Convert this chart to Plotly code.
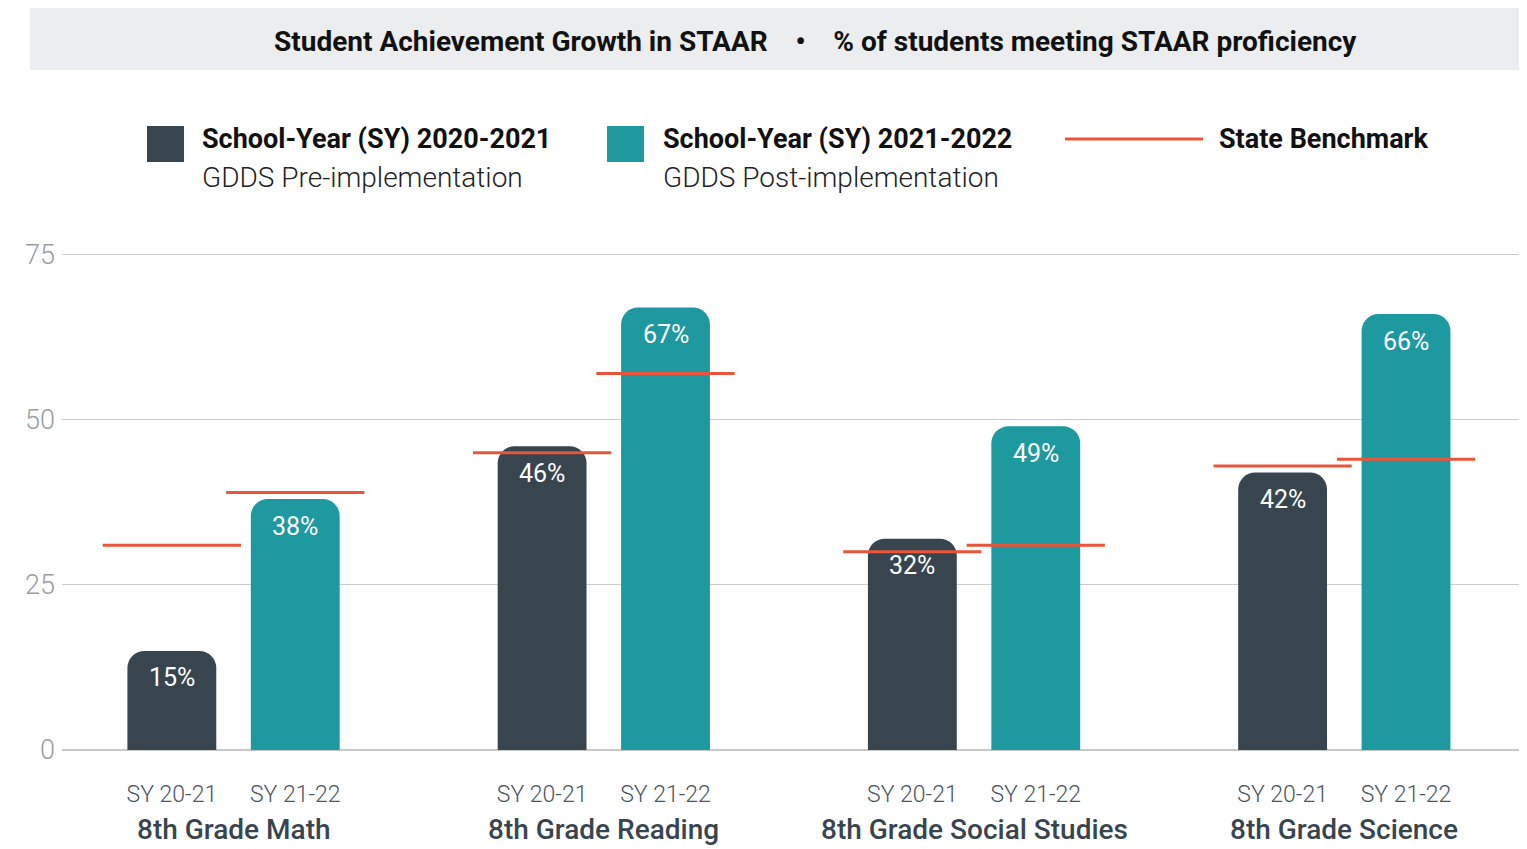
import plotly.graph_objects as go

# ---- data ----
subjects = ["8th Grade Math", "8th Grade Reading", "8th Grade Social Studies", "8th Grade Science"]
year_labels = ["SY 20-21", "SY 21-22"]
pre_values = [15, 46, 32, 42]        # SY 2020-2021 (GDDS pre-implementation)
post_values = [38, 67, 49, 66]       # SY 2021-2022 (GDDS post-implementation)
bench_pre = [31, 45, 30, 43]         # state benchmark SY 20-21
bench_post = [39, 57, 31, 44]        # state benchmark SY 21-22
y_ticks = [0, 25, 50, 75]

DARK = "#38454f"
TEAL = "#1e999f"
RED = "#e8553a"
FONT = "Roboto"

W, H = 1527, 841
L, R, T = 54, 0, 240
B = H - 742

n = len(subjects)
pre_x = [3 * i for i in range(n)]
post_x = [3 * i + 1 for i in range(n)]
grp_x = [3 * i + 0.5 for i in range(n)]
bar_w = 0.72
half = 0.56

fig = go.Figure()
fig.add_trace(go.Bar(
    x=pre_x, y=pre_values, width=bar_w, marker=dict(color=DARK, line=dict(width=0)),
    name="SY 2020-2021", showlegend=False, hovertemplate="%{y}%<extra></extra>",
))
fig.add_trace(go.Bar(
    x=post_x, y=post_values, width=bar_w, marker=dict(color=TEAL, line=dict(width=0)),
    name="SY 2021-2022", showlegend=False, hovertemplate="%{y}%<extra></extra>",
))

bx, by = [], []
for xs, bs in ((pre_x, bench_pre), (post_x, bench_post)):
    for x, b in zip(xs, bs):
        bx += [x - half, x + half, None]
        by += [b, b, None]
fig.add_trace(go.Scatter(x=bx, y=by, mode="lines", line=dict(color=RED, width=3),
                         name="State Benchmark", showlegend=False, hoverinfo="skip"))

# value labels inside bar tops
for xs, vs in ((pre_x, pre_values), (post_x, post_values)):
    for x, v in zip(xs, vs):
        fig.add_annotation(x=x, y=v, xref="x", yref="y", text=f"{v}%", showarrow=False,
                           yshift=-27, yanchor="middle", xanchor="center",
                           font=dict(size=25, color="white", family=FONT, weight=400))

tickvals = []
ticktext = []
for a, b in zip(pre_x, post_x):
    tickvals += [a, b]
    ticktext += year_labels

fig.update_layout(
    width=W, height=H,
    margin=dict(l=L, r=R, t=T, b=B),
    paper_bgcolor="white", plot_bgcolor="white",
    barmode="overlay", barcornerradius=17,
    font=dict(family=FONT),
    xaxis=dict(range=[-0.89, 11.045], tickvals=tickvals, ticktext=ticktext,
               tickfont=dict(size=23, color="#4a5560", family=FONT, weight=300),
               showgrid=False, zeroline=False, showline=False, ticks="", ticklabelstandoff=28),
    yaxis=dict(range=[0, 76], tickvals=y_ticks, showgrid=True, gridcolor="#cccccc", gridwidth=1,
               tickfont=dict(size=27, color="#9a9ea3", family=FONT, weight=300),
               zeroline=True, zerolinecolor="#c8c8c8", zerolinewidth=1.5, ticks="",
               ticklabelstandoff=6),
)

# group labels
for gx, s in zip(grp_x, subjects):
    fig.add_annotation(x=gx, xref="x", y=-0.158, yref="paper", text=s, showarrow=False,
                       font=dict(size=28, color="#38454f", family=FONT, weight=500),
                       xanchor="center", yanchor="middle")


def px_x(p):
    return (p - 62) / (W - L - R)


def px_y(p):
    return (750 - p) / (H - T - B)


# title band
fig.add_shape(type="rect", xref="paper", yref="paper", x0=px_x(30), x1=1.0,
              y0=px_y(70), y1=px_y(8), fillcolor="#ecedef", line=dict(width=0), layer="below")
fig.add_annotation(xref="paper", yref="paper", x=px_x(816), y=px_y(42),
                   text="Student Achievement Growth in STAAR &nbsp;&nbsp;&nbsp;•&nbsp;&nbsp;&nbsp; % of students meeting STAAR proficiency",
                   showarrow=False, font=dict(size=28, color="#111111", family=FONT, weight=700),
                   xanchor="center", yanchor="middle")

# custom legend
for (x0, x1, col) in ((147, 184, DARK), (607, 644, TEAL)):
    fig.add_shape(type="rect", xref="paper", yref="paper", x0=px_x(x0), x1=px_x(x1),
                  y0=px_y(162), y1=px_y(126), fillcolor=col, line=dict(width=0))
fig.add_shape(type="line", xref="paper", yref="paper", x0=px_x(1065), x1=px_x(1203),
              y0=px_y(139), y1=px_y(139), line=dict(color=RED, width=3))

legend_items = [
    (200, "School-Year (SY) 2020-2021", "GDDS Pre-implementation"),
    (661, "School-Year (SY) 2021-2022", "GDDS Post-implementation"),
    (1217, "State Benchmark", None),
]
for x0, head, sub in legend_items:
    fig.add_annotation(xref="paper", yref="paper", x=px_x(x0), y=px_y(139), text=head,
                       showarrow=False, xanchor="left", yanchor="middle",
                       font=dict(size=27, color="#111111", family=FONT, weight=700))
    if sub:
        fig.add_annotation(xref="paper", yref="paper", x=px_x(x0), y=px_y(178), text=sub,
                           showarrow=False, xanchor="left", yanchor="middle",
                           font=dict(size=28, color="#222222", family=FONT, weight=300))

fig.write_html("out.html")
